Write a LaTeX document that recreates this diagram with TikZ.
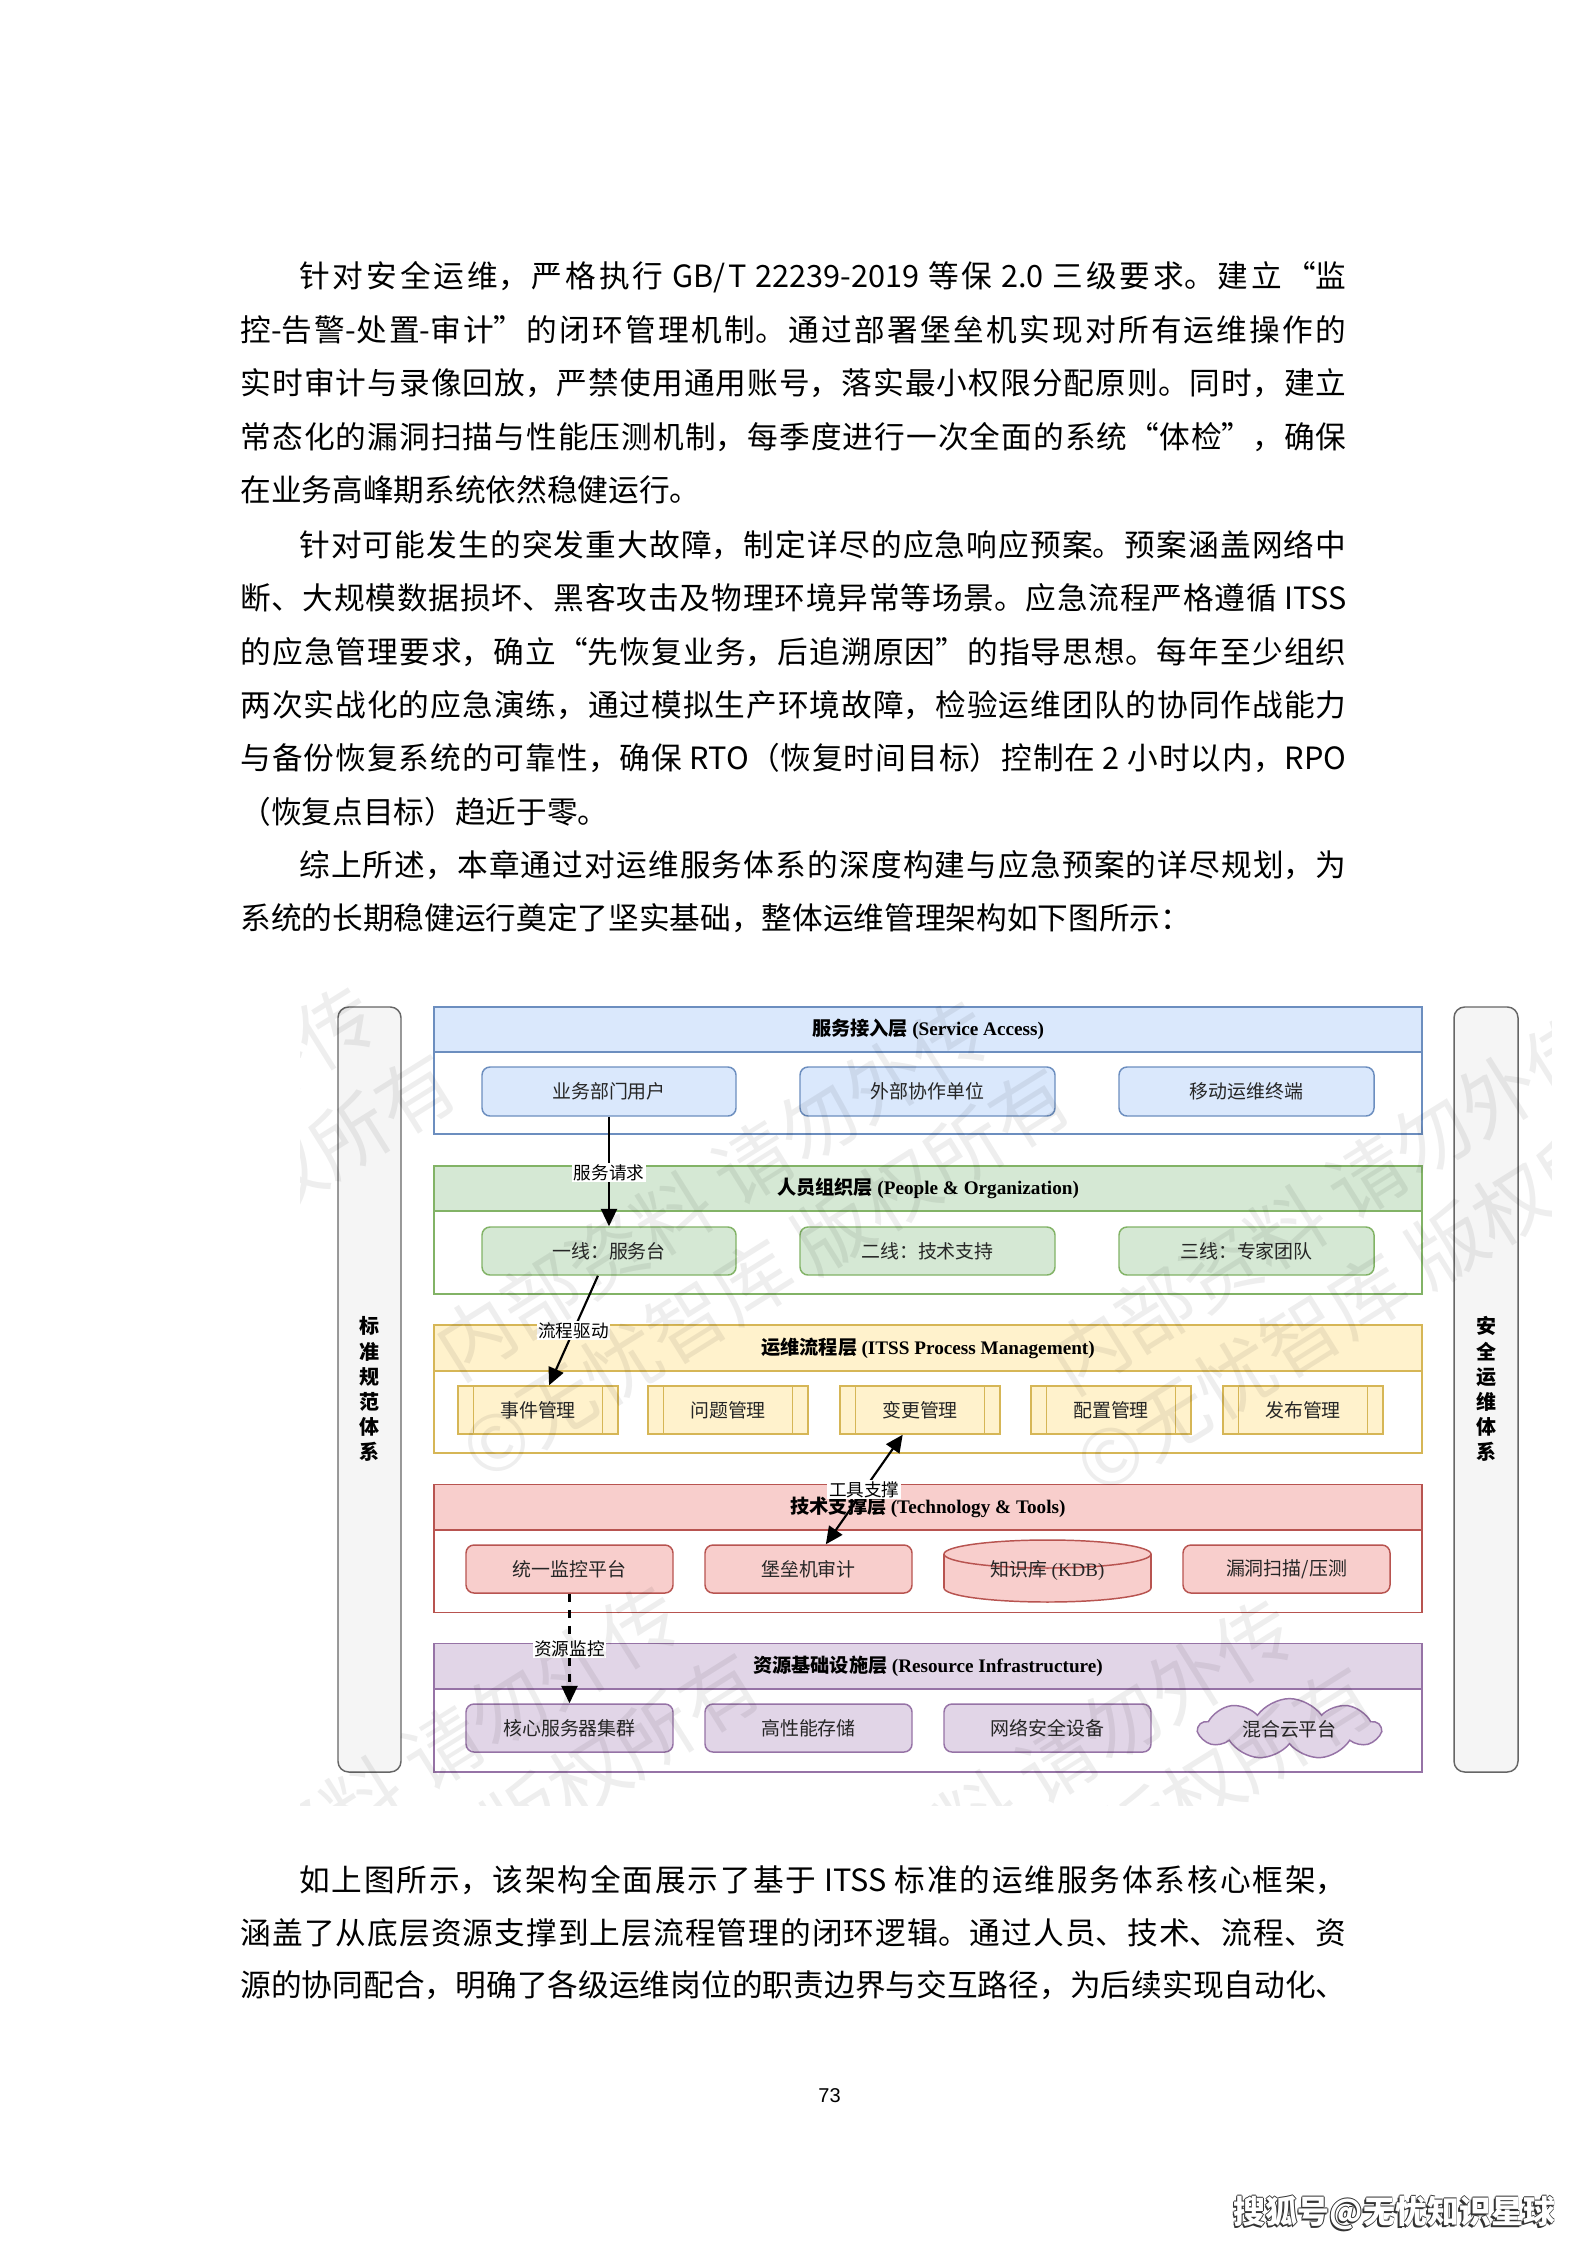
\documentclass[tikz,border=0pt]{standalone}
\usepackage{fontspec}
\setmainfont{Noto Sans CJK SC}
\newfontfamily\cjk{Noto Sans CJK SC}
\newfontfamily\tms{Liberation Serif}
\newfontfamily\arl{Liberation Sans}
\usetikzlibrary{fit,arrows.meta,shapes.symbols}
\XeTeXlinebreaklocale "zh"
\XeTeXlinebreakskip=0pt plus 2pt minus 0.1pt
\definecolor{blueF}{HTML}{DAE8FC}\definecolor{blueD}{HTML}{6C8EBF}
\definecolor{greenF}{HTML}{D5E8D4}\definecolor{greenD}{HTML}{82B366}
\definecolor{yelF}{HTML}{FFF2CC}\definecolor{yelD}{HTML}{D6B656}
\definecolor{redF}{HTML}{F8CECC}\definecolor{redD}{HTML}{B85450}
\definecolor{purF}{HTML}{E1D5E7}\definecolor{purD}{HTML}{9673A6}
\definecolor{grayF}{HTML}{F5F5F5}\definecolor{grayD}{HTML}{666666}
\newcommand\textw{414.75pt}
\newcommand\bodyj[3]{\node[body] (#1) at (240,#2) {\parbox{\textw}{\parfillskip=0pt\relax #3}};}
\newcommand\bodyi[3]{\node[body] (#1) at (240,#2) {\parbox{\textw}{\parfillskip=0pt\relax\hspace*{22pt}#3}};}
\newcommand\bodyl[3]{\node[body] (#1) at (240,#2) {#3};}
% box from corner coordinates (in px): name, style, x1, y1, x2, y2, text
\newcommand\bx[7]{\node[#2, minimum width={(#5-#3)*0.375pt}, minimum height={(#6-#4)*0.375pt}] (#1) at ({(#3+#5)/2},{(#4+#6)/2}) {#7};}
\tikzset{
  body/.style={anchor=west, inner sep=0pt, font=\cjk\fontsize{11.5pt}{14pt}\selectfont},
  lay/.style={draw=#1, line width=0.55pt, fill=white, inner sep=0pt},
  hdr/.style 2 args={draw=#1, fill=#2, line width=0.55pt, inner sep=0pt, font=\fontsize{7.2pt}{8pt}\selectfont},
  rbox/.style 2 args={draw=#1, fill=#2, line width=0.55pt, rounded corners=3pt, inner sep=0pt, font=\cjk\fontsize{7.1pt}{8pt}\selectfont, text=black!85},
  pbox/.style={draw=yelD, fill=yelF, line width=0.55pt, inner sep=0pt, font=\cjk\fontsize{7.1pt}{8pt}\selectfont, text=black!85},
  btxt/.style={inner sep=0pt, font=\cjk\fontsize{7.1pt}{8pt}\selectfont, text=black!85},
  conn/.style={-{Triangle[length=6.5pt,width=6pt]}, line width=0.8pt},
  lbl/.style={fill=white, inner sep=0.6pt, font=\cjk\fontsize{6.6pt}{7pt}\selectfont},
  side/.style={draw=grayD, fill=grayF, line width=0.55pt, rounded corners=4pt, inner sep=0pt},
  sidetxt/.style={align=center, font=\cjk\bfseries\fontsize{7.5pt}{9.4pt}\selectfont},
  wm/.style={text=black, opacity=0.065, font=\cjk\fontsize{29pt}{37.5pt}\selectfont, align=center, inner sep=0pt, rotate=32}
}
\begin{document}
\begin{tikzpicture}[x=0.375pt, y=-0.375pt]
\useasboundingbox (0,0) rectangle (1587,2245);
\fill[white] (0,0) rectangle (1587,2245);

% ---------- body text ----------
\bodyi{a1}{276.7}{针对安全运维，严格执行 GB/T 22239-2019 等保 2.0 三级要求。建立“监}
\bodyj{a2}{330}{控-告警-处置-审计”的闭环管理机制。通过部署堡垒机实现对所有运维操作的}
\bodyj{a3}{383.3}{实时审计与录像回放，严禁使用通用账号，落实最小权限分配原则。同时，建立}
\bodyj{a4}{436.7}{常态化的漏洞扫描与性能压测机制，每季度进行一次全面的系统“体检”，确保}
\bodyl{a5}{490}{在业务高峰期系统依然稳健运行。}
\bodyi{b1}{545}{针对可能发生的突发重大故障，制定详尽的应急响应预案。预案涵盖网络中}
\bodyj{b2}{598.3}{断、大规模数据损坏、黑客攻击及物理环境异常等场景。应急流程严格遵循 ITSS}
\bodyj{b3}{651.7}{的应急管理要求，确立“先恢复业务，后追溯原因”的指导思想。每年至少组织}
\bodyj{b4}{705}{两次实战化的应急演练，通过模拟生产环境故障，检验运维团队的协同作战能力}
\bodyj{b5}{758.3}{与备份恢复系统的可靠性，确保 RTO（恢复时间目标）控制在 2 小时以内，RPO}
\bodyl{b6}{811.7}{（恢复点目标）趋近于零。}
\bodyi{c1}{865}{综上所述，本章通过对运维服务体系的深度构建与应急预案的详尽规划，为}
\bodyl{c2}{918.3}{系统的长期稳健运行奠定了坚实基础，整体运维管理架构如下图所示：}
\bodyi{d1}{1880}{如上图所示，该架构全面展示了基于 ITSS 标准的运维服务体系核心框架，}
\bodyj{d2}{1933}{涵盖了从底层资源支撑到上层流程管理的闭环逻辑。通过人员、技术、流程、资}
\bodyj{d3}{1985}{源的协同配合，明确了各级运维岗位的职责边界与交互路径，为后续实现自动化、}

% ---------- side panels ----------
\bx{sl}{side}{338}{1007}{401}{1772}{}
\node[sidetxt] (slt) at (369.5,1389) {标\\准\\规\\范\\体\\系};
\bx{sr}{side}{1454}{1007}{1518}{1772}{}
\node[sidetxt] (srt) at (1486,1389) {安\\全\\运\\维\\体\\系};

% ---------- layers ----------
\bx{L1}{lay=blueD}{434}{1007}{1422}{1134}{}
\bx{L1h}{hdr={blueD}{blueF}}{434}{1007}{1422}{1052}{{\cjk\bfseries 服务接入层} {\tms\bfseries (Service Access)}}
\bx{L2}{lay=greenD}{434}{1166}{1422}{1294}{}
\bx{L2h}{hdr={greenD}{greenF}}{434}{1166}{1422}{1211}{{\cjk\bfseries 人员组织层} {\tms\bfseries (People \& Organization)}}
\bx{L3}{lay=yelD}{434}{1325}{1422}{1453}{}
\bx{L3h}{hdr={yelD}{yelF}}{434}{1325}{1422}{1371}{{\cjk\bfseries 运维流程层} {\tms\bfseries (ITSS Process Management)}}
\bx{L4}{lay=redD}{434}{1484.5}{1422}{1612.5}{}
\bx{L4h}{hdr={redD}{redF}}{434}{1484.5}{1422}{1530}{{\cjk\bfseries 技术支撑层} {\tms\bfseries (Technology \& Tools)}}
\bx{L5}{lay=purD}{434}{1643.5}{1422}{1772}{}
\bx{L5h}{hdr={purD}{purF}}{434}{1643.5}{1422}{1689}{{\cjk\bfseries 资源基础设施层} {\tms\bfseries (Resource Infrastructure)}}

% row 1
\bx{s1}{rbox={blueD}{blueF}}{482}{1067}{736}{1116}{业务部门用户}
\bx{s2}{rbox={blueD}{blueF}}{800}{1067}{1055}{1116}{外部协作单位}
\bx{s3}{rbox={blueD}{blueF}}{1119}{1067}{1374}{1116}{移动运维终端}
% row 2
\bx{p1}{rbox={greenD}{greenF}}{482}{1227}{736}{1275}{一线：服务台}
\bx{p2}{rbox={greenD}{greenF}}{800}{1227}{1055}{1275}{二线：技术支持}
\bx{p3}{rbox={greenD}{greenF}}{1119}{1227}{1374}{1275}{三线：专家团队}
% row 3
\bx{e1}{pbox}{458}{1386}{618}{1434}{事件管理}
\bx{e2}{pbox}{648}{1386}{808}{1434}{问题管理}
\bx{e3}{pbox}{840}{1386}{1000}{1434}{变更管理}
\bx{e4}{pbox}{1031}{1386}{1191}{1434}{配置管理}
\bx{e5}{pbox}{1223}{1386}{1383}{1434}{发布管理}
\foreach \n in {e1,e2,e3,e4,e5}{
  \draw[yelD, line width=0.55pt] ([xshift=6.15pt]\n.north west) -- ([xshift=6.15pt]\n.south west);
  \draw[yelD, line width=0.55pt] ([xshift=-6.15pt]\n.north east) -- ([xshift=-6.15pt]\n.south east);
}
% row 4
\bx{t1}{rbox={redD}{redF}}{466}{1545}{673}{1593}{统一监控平台}
\bx{t2}{rbox={redD}{redF}}{705}{1545}{912}{1593}{堡垒机审计}
\draw[redD, fill=redF, line width=0.55pt] (1047.5,1588) ellipse [x radius=103.5, y radius=14];
\fill[redF] (944,1554) rectangle (1151,1588);
\draw[redD, line width=0.55pt] (944,1554) -- (944,1588) (1151,1554) -- (1151,1588);
\draw[redD, fill=redF, line width=0.55pt] (1047.5,1554) ellipse [x radius=103.5, y radius=14];
\node[btxt] (t3) at (1047.5,1571) {知识库 {\tms (KDB)}};
\bx{t4}{rbox={redD}{redF}}{1183}{1545}{1390}{1593}{漏洞扫描/压测}
% row 5
\bx{r1}{rbox={purD}{purF}}{466}{1704}{673}{1752}{核心服务器集群}
\bx{r2}{rbox={purD}{purF}}{705}{1704}{912}{1752}{高性能存储}
\bx{r3}{rbox={purD}{purF}}{944}{1704}{1151}{1752}{网络安全设备}
\node[cloud, cloud puffs=9, cloud puff arc=110, aspect=3.4, draw=purD, fill=purF, line width=0.55pt, minimum width=68pt, minimum height=20pt, inner sep=0pt, font=\cjk\fontsize{7.1pt}{8pt}\selectfont, text=black!85] (r4) at (1289.5,1729) {混合云平台};

% ---------- connectors ----------
\draw[conn] (s1) -- (p1) node[lbl, pos=0.51] (lb1) {服务请求};
\draw[conn] (p1) -- (e1) node[lbl, pos=0.5] (lb2) {流程驱动};
\draw[{Triangle[length=6.5pt,width=6pt]}-{Triangle[length=6.5pt,width=6pt]}, line width=0.8pt] (t2) -- (e3) node[lbl, pos=0.5] (lb3) {工具支撑};
\draw[conn, dash pattern=on 3pt off 3pt] (t1) -- (r1) node[lbl, pos=0.5] (lb4) {资源监控};

% ---------- watermark ----------
\begin{scope}
\clip (300,967) rectangle (1551,1805);
\foreach \cx/\cy [count=\i] in {125/1217, 739/1231, 1353/1245, 429/1816, 1043/1830, 1657/1844}
  \node[wm] (wm\i) at (\cx,\cy) {内部资料 请勿外传\\©无忧智库 版权所有};
\end{scope}

% ---------- footer ----------
\node[font=\arl\fontsize{7.5pt}{9pt}\selectfont] (pg) at (829.5,2095.5) {73};
\foreach \dx/\dy [count=\k] in {-1.5/1.5, -1/0, 0/1, 0.8/0, 0/-0.8}
  \node[font=\cjk\bfseries\fontsize{12pt}{14pt}\selectfont, text=black!80] (shs\k) at (1394.5+\dx,2213+\dy) {搜狐号@无忧知识星球};
\node[font=\cjk\bfseries\fontsize{12pt}{14pt}\selectfont, text=white] (sh) at (1394.5,2213) {搜狐号@无忧知识星球};
\end{tikzpicture}
\end{document}
